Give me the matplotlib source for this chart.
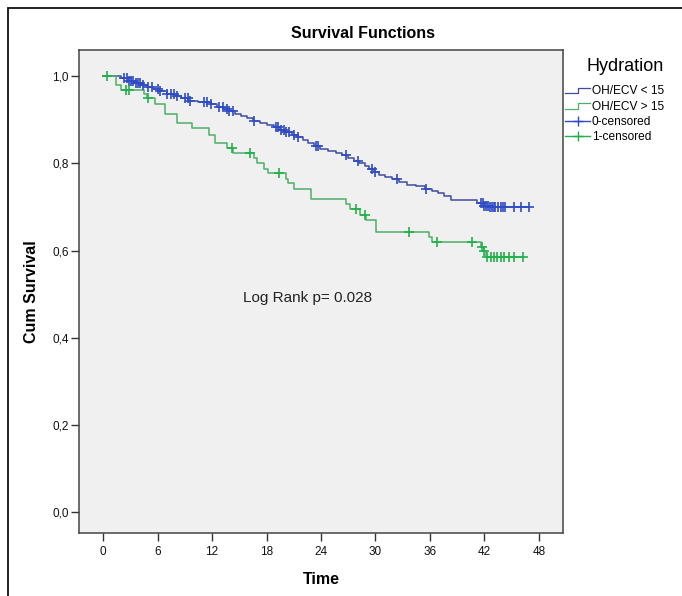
import numpy as np
import matplotlib
matplotlib.use("Agg")
import matplotlib.pyplot as plt
from matplotlib.lines import Line2D
from matplotlib.patches import Rectangle
from matplotlib.legend_handler import HandlerBase

plt.rcParams['font.family'] = ['Liberation Sans', 'DejaVu Sans']

# ---------------- data ----------------
group_labels = ["OH/ECV < 15", "OH/ECV > 15"]
censor_labels = ["0-censored", "1-censored"]
legend_title = "Hydration"

# group 0 (OH/ECV < 15): step times and survival after each step
low_times = [0, 2.0, 2.7, 3.4, 4.2, 4.8, 5.5, 6.1, 7.0, 7.9, 8.6, 9.4, 10.5, 11.9, 12.6, 13.3,
             13.9, 14.5, 15.2, 15.9, 16.5, 17.3, 18.1, 18.8, 19.5, 20.2, 20.8, 21.4, 22.0,
             22.6, 23.2, 23.9, 24.8, 25.6, 26.3, 27.0, 27.6, 28.2, 28.8, 29.3, 29.8, 30.4,
             31.0, 31.8, 32.6, 33.5, 34.5, 35.4, 36.2, 36.9, 37.5, 38.3, 41.2, 41.9, 42.6]
low_surv = [1.0, 0.995, 0.990, 0.985, 0.980, 0.975, 0.970, 0.965, 0.960, 0.955, 0.950, 0.944,
            0.940, 0.935, 0.930, 0.925, 0.919, 0.913, 0.908, 0.903, 0.898, 0.893, 0.888,
            0.883, 0.877, 0.871, 0.866, 0.860, 0.854, 0.847, 0.840, 0.834, 0.829, 0.824,
            0.818, 0.812, 0.806, 0.800, 0.793, 0.787, 0.780, 0.774, 0.769, 0.763, 0.757,
            0.751, 0.747, 0.742, 0.737, 0.731, 0.725, 0.717, 0.709, 0.703, 0.699]
low_censor = [2.3, 2.6, 2.9, 3.1, 3.3, 3.6, 3.9, 4.1, 4.4, 5.0, 5.4, 6.0, 6.3, 7.0, 7.5, 7.8,
              8.1, 9.0, 9.3, 9.6, 11.1, 11.5, 11.9, 12.8, 13.2, 13.6, 13.9, 14.3, 16.6, 19.0,
              19.3, 19.6, 19.9, 20.2, 20.5, 21.0, 21.5, 23.4, 23.7, 26.8, 28.1, 29.6, 29.9,
              32.4, 35.6, 41.6, 41.8, 42.0, 42.2, 42.4, 42.6, 42.8, 43.0, 43.2, 43.5, 43.8,
              44.0, 44.3, 45.2, 46.0, 46.9]

# group 1 (OH/ECV > 15)
high_times = [0, 1.4, 2.0, 4.5, 4.8, 5.7, 6.8, 8.1, 9.8, 11.7, 12.3, 13.6, 14.3, 16.6, 16.9,
              17.7, 18.2, 20.2, 20.4, 21.0, 22.9, 26.7, 27.2, 28.3, 29.0, 30.1, 35.9, 36.2,
              41.6, 41.9, 42.2]
high_surv = [1.0, 0.979, 0.969, 0.959, 0.949, 0.937, 0.914, 0.892, 0.880, 0.865, 0.847, 0.835,
             0.824, 0.812, 0.800, 0.788, 0.777, 0.765, 0.754, 0.742, 0.718, 0.706, 0.695,
             0.681, 0.670, 0.643, 0.631, 0.620, 0.608, 0.598, 0.586]
high_censor = [0.4, 2.5, 2.9, 5.0, 14.2, 16.2, 19.4, 27.8, 28.9, 33.7, 36.8, 40.6, 41.7, 42.0,
               42.3, 42.7, 43.1, 43.4, 43.8, 44.1, 44.7, 45.2, 46.2]

annotation = "Log Rank p= 0.028"
x_ticks = [0, 6, 12, 18, 24, 30, 36, 42, 48]
y_ticks = [0.0, 0.2, 0.4, 0.6, 0.8, 1.0]
y_tick_labels = ["0,0", "0,2", "0,4", "0,6", "0,8", "1,0"]

# ---------------- style ----------------
line_colors = ["#3F4CA0", "#4DAF68"]
censor_colors = ["#2F4CC6", "#22B04A"]


class StepHandler(HandlerBase):
    def create_artists(self, legend, orig_handle, xdescent, ydescent, width, height,
                       fontsize, trans):
        x0 = -xdescent
        y0 = -ydescent
        xs = [x0, x0 + width * 0.5, x0 + width * 0.5, x0 + width]
        ys = [y0 + height * 0.15, y0 + height * 0.15, y0 + height * 0.75, y0 + height * 0.75]
        ln = Line2D(xs, ys, color=orig_handle.get_color(), lw=0.9)
        ln.set_transform(trans)
        return [ln]


W, H = 682, 596
fig = plt.figure(figsize=(W / 100, H / 100), dpi=100)
fig.patch.set_facecolor("white")

# outer frame
fig.patches.append(Rectangle((8 / W, -0.2), 1.5, 1 - 8 / H + 0.2, transform=fig.transFigure,
                             fill=False, edgecolor="#111111", lw=1.3))

ax = fig.add_axes([79 / W, 1 - 533 / H, (563 - 79) / W, (533 - 50) / H])
ax.set_facecolor("#F0F0F0")


def draw_group(times, surv, censor, lc, cc):
    times = np.asarray(times, float)
    surv = np.asarray(surv, float)
    censor = np.asarray(censor, float)
    t_end = max(times.max(), censor.max())
    tt = np.append(times, t_end)
    ss = np.append(surv, surv[-1])
    ax.step(tt, ss, where="post", color=lc, lw=1.1, zorder=3)
    idx = np.searchsorted(times, censor, side="right") - 1
    ax.plot(censor, surv[idx], linestyle="none", marker="+", markersize=7.5,
            markeredgewidth=1.2, color=cc, zorder=4)


draw_group(low_times, low_surv, low_censor, line_colors[0], censor_colors[0])
draw_group(high_times, high_surv, high_censor, line_colors[1], censor_colors[1])

ax.set_xlim(-2.65, 50.65)
ax.set_ylim(-0.048, 1.06)
ax.set_xticks(x_ticks)
ax.set_xticklabels([str(v) for v in x_ticks])
ax.set_yticks(y_ticks)
ax.set_yticklabels(y_tick_labels)
ax.tick_params(axis="both", direction="out", length=5.5, width=1.0, color="#333333",
               labelsize=8.5, labelcolor="#111111", pad=2)
ax.tick_params(axis="x", pad=4)
for sp in ax.spines.values():
    sp.set_color("#444444")
    sp.set_linewidth(1.1)

ax.set_xlabel("Time", fontsize=11.5, fontweight="bold", va="top")
ax.xaxis.set_label_coords(0.5, -0.081)
ax.set_ylabel("Cum Survival", fontsize=11.5, fontweight="bold", va="bottom")
ax.yaxis.set_label_coords(-0.083, 0.5)

fig.text(363 / W, 1 - 33 / H, "Survival Functions", ha="center", va="center",
         fontsize=11.5, fontweight="bold")

ax.text(22.5, 0.491, annotation, ha="center", va="center", fontsize=11, color="#222222")

handles = [Line2D([], [], color=line_colors[0]), Line2D([], [], color=line_colors[1]),
           Line2D([], [], color=censor_colors[0], marker="+", markersize=7, lw=1.0),
           Line2D([], [], color=censor_colors[1], marker="+", markersize=7, lw=1.0)]
leg = fig.legend(handles, group_labels + censor_labels, title=legend_title,
                 loc="upper left", bbox_to_anchor=(565 / W, 1 - 58 / H),
                 frameon=False, fontsize=8.6, title_fontsize=13,
                 handlelength=2.1, handletextpad=0.15, labelspacing=0.28,
                 borderpad=0, borderaxespad=0, numpoints=1, alignment="right",
                 handler_map={handles[0]: StepHandler(), handles[1]: StepHandler()})
leg._legend_box.sep = 7.5

fig.savefig("out.png", dpi=100)
